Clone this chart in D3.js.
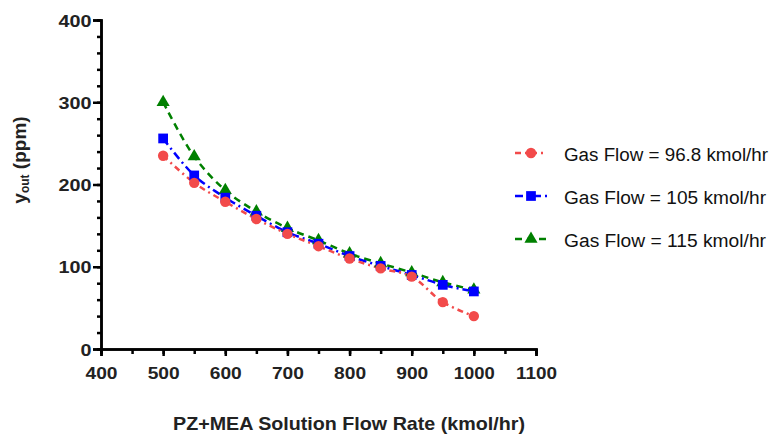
<!DOCTYPE html>
<html><head><meta charset="utf-8">
<script src="https://cdn.jsdelivr.net/npm/d3@7/dist/d3.min.js"></script>
<style>body{margin:0;background:#fff}</style>
</head><body>
<svg id="c" width="773" height="439"></svg>
<script>
const flowRates = [500,550,600,650,700,750,800,850,900,950,1000];
const gas968 = [235,202,179,158,140,125,110,98,88,57,40];
const gas105 = [256,211,184,162,142,128,113,101,90,78,70];
const gas115 = [300,234,193,167,147,132,116,104,93,81,72];
const seriesNames = ["Gas Flow = 96.8 kmol/hr","Gas Flow = 105 kmol/hr","Gas Flow = 115 kmol/hr"];
const xTicks = [400,500,600,700,800,900,1000,1100];
const yTicks = [0,100,200,300,400];

const svg = d3.select("#c");
const x = d3.scaleLinear().domain([400,1100]).range([101,536]);
const y = d3.scaleLinear().domain([0,400]).range([349,20]);
const font = "Liberation Sans, Arial, sans-serif";

const series = [
  {name:seriesNames[0], vals:gas968, color:"#F24A4A", dash:"6,4,2,4", shape:d3.symbolCircle, size:85, lgW:204},
  {name:seriesNames[1], vals:gas105, color:"#0000FF", dash:"8,4,2,4", shape:d3.symbolSquare, size:95, lgW:202},
  {name:seriesNames[2], vals:gas115, color:"#008000", dash:"7,5", shape:d3.symbolTriangle, size:75, lgW:202}
];
const drawOrder = [2,1,0];

const line = d3.line().x((d,i)=>x(flowRates[i])).y(d=>y(d)).curve(d3.curveCatmullRom.alpha(0.5));
drawOrder.forEach(k=>{
  const s = series[k];
  svg.append("path").attr("d",line(s.vals)).attr("fill","none")
    .attr("stroke",s.color).attr("stroke-width",2.5).attr("stroke-dasharray",s.dash);
});
drawOrder.forEach(k=>{
  const s = series[k];
  svg.selectAll(null).data(s.vals).enter().append("path")
    .attr("d",d3.symbol().type(s.shape).size(s.size))
    .attr("transform",(d,i)=>`translate(${x(flowRates[i])},${y(d)})`)
    .attr("fill",s.color);
});

// axes
function styleAxis(g){
  g.select(".domain").attr("stroke-width",2.5);
  g.selectAll(".tick line").attr("stroke-width",2.5);
}
svg.append("g").attr("transform","translate(0,349)")
  .call(d3.axisBottom(x).tickValues(d3.range(400,1101,50)).tickSize(5).tickFormat("")).call(styleAxis);
const xMaj = svg.append("g").attr("transform","translate(0,349)")
  .call(d3.axisBottom(x).tickValues(xTicks).tickSize(7).tickFormat(d3.format("d"))).call(styleAxis);
xMaj.selectAll("text").attr("y",30).attr("dy",0)
  .attr("font-family",font).attr("font-size",16.5).attr("font-weight","bold").attr("fill","#222")
  .attr("textLength",d=>String(d).length===4?41:32).attr("lengthAdjust","spacingAndGlyphs");

svg.append("g").attr("transform","translate(101,0)")
  .call(d3.axisLeft(y).tickValues(d3.range(0,401,20)).tickSize(4).tickFormat("")).call(styleAxis);
const yMaj = svg.append("g").attr("transform","translate(101,0)")
  .call(d3.axisLeft(y).tickValues(yTicks).tickSize(8).tickPadding(2).tickFormat(d3.format("d"))).call(styleAxis);
yMaj.selectAll("text").attr("dy",6).attr("x",-9.5)
  .attr("font-family",font).attr("font-size",16.5).attr("font-weight","bold").attr("fill","#222")
  .attr("textLength",d=>String(d).length===1?11:33).attr("lengthAdjust","spacingAndGlyphs");

// axis titles
svg.append("text").attr("x",349).attr("y",430).attr("text-anchor","middle")
  .attr("font-family",font).attr("font-size",19).attr("font-weight","bold").attr("fill","#222")
  .attr("textLength",352).attr("lengthAdjust","spacingAndGlyphs")
  .text("PZ+MEA Solution Flow Rate (kmol/hr)");
const yt = svg.append("text").attr("transform","translate(26,160) rotate(-90)").attr("text-anchor","middle")
  .attr("font-family",font).attr("font-size",19).attr("font-weight","bold").attr("fill","#222");
yt.append("tspan").text("y");
yt.append("tspan").attr("font-size",12).attr("dy",3).text("out");
yt.append("tspan").attr("dy",-3).text(" (ppm)");

// legend
const lgY = [153,196,239];
series.forEach((s,i)=>{
  const cy = lgY[i];
  svg.append("line").attr("x1",515).attr("x2",547).attr("y1",cy).attr("y2",cy)
    .attr("stroke",s.color).attr("stroke-width",2.5).attr("stroke-dasharray",s.dash);
  svg.append("path").attr("d",d3.symbol().type(s.shape).size(s.size)).attr("transform",`translate(531,${cy})`).attr("fill",s.color);
  svg.append("text").attr("x",564).attr("y",cy+7.5).attr("font-family",font).attr("font-size",18).attr("fill","#111")
    .attr("textLength",s.lgW).attr("lengthAdjust","spacingAndGlyphs").text(s.name);
});
</script>
</body></html>
